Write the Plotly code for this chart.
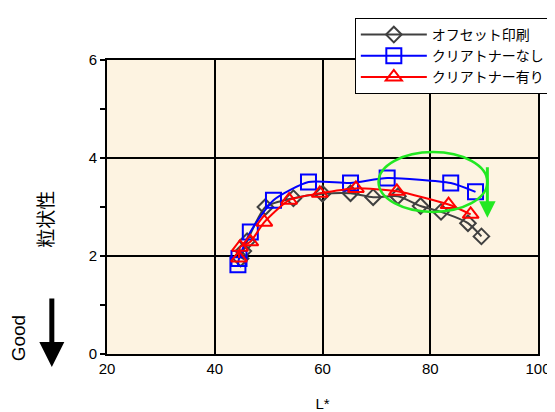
import plotly.graph_objects as go

# Data
x_off = [44.8, 45.3, 46.0, 49.4, 54.6, 60.0, 65.2, 69.4, 74.0, 78.2, 82.0, 87.0, 89.5]
y_off = [1.95, 2.1, 2.3, 3.0, 3.18, 3.27, 3.28, 3.2, 3.22, 3.02, 2.9, 2.67, 2.4]

x_none = [44.3, 44.5, 46.6, 50.9, 57.4, 65.2, 72.0, 83.8, 88.4]
y_none = [1.82, 1.95, 2.49, 3.14, 3.51, 3.49, 3.59, 3.49, 3.31]

x_with = [44.5, 44.7, 46.6, 49.2, 53.8, 59.5, 66.2, 73.8, 83.4, 87.5]
y_with = [1.96, 2.18, 2.29, 2.69, 3.14, 3.28, 3.38, 3.32, 3.05, 2.85]

names = ["オフセット印刷", "クリアトナーなし", "クリアトナー有り"]
x_ticks = [20, 40, 60, 80, 100]
y_ticks = [0, 2, 4, 6]

JP = "Noto Sans CJK JP, sans-serif"
AR = "Arial, Liberation Sans, sans-serif"

fig = go.Figure()
fig.add_trace(go.Scatter(x=x_off, y=y_off, name=names[0], mode="lines+markers",
                         line=dict(color="#404040", width=2, shape="spline", smoothing=0.6),
                         marker=dict(symbol="diamond-open", size=12, color="#404040", line=dict(width=2))))
fig.add_trace(go.Scatter(x=x_none, y=y_none, name=names[1], mode="lines+markers",
                         line=dict(color="#0000FF", width=2, shape="spline", smoothing=0.6),
                         marker=dict(symbol="square-open", size=15, color="#0000FF", line=dict(width=2))))
fig.add_trace(go.Scatter(x=x_with, y=y_with, name=names[2], mode="lines+markers",
                         line=dict(color="#FF0000", width=2, shape="spline", smoothing=0.6),
                         marker=dict(symbol="triangle-up-open", size=14, color="#FF0000", line=dict(width=2))))

# green ellipse + arrow annotation
fig.add_shape(type="circle", xref="x", yref="y", x0=70.4, x1=90.6, y0=2.9, y1=4.12,
              line=dict(color="#22E822", width=2.5))
fig.add_annotation(x=90.6, y=2.78, ax=0, ay=-52, xref="x", yref="y", text="",
                   showarrow=True, arrowhead=2, arrowsize=1.1, arrowwidth=3, arrowcolor="#22E822")

# "Good" arrow
fig.add_annotation(x=-0.128, y=-0.044, ax=0, ay=-70, xref="paper", yref="paper", text="",
                   showarrow=True, arrowhead=2, arrowsize=1.0, arrowwidth=5, arrowcolor="black")
fig.add_annotation(x=-0.206, y=0.054, xref="paper", yref="paper", text="Good", showarrow=False,
                   xanchor="center", yanchor="middle",
                   textangle=-90, font=dict(family=AR, size=19, color="black"))
# y-axis title
fig.add_annotation(x=-0.144, y=0.46, xref="paper", yref="paper", text="粒状性", showarrow=False,
                   xanchor="center", yanchor="middle",
                   textangle=-90, font=dict(family=JP, size=19, color="black"))

fig.update_layout(
    width=547, height=404,
    margin=dict(l=99, r=17, t=52, b=58, autoexpand=False),
    paper_bgcolor="white",
    plot_bgcolor="#FDF3E1",
    showlegend=True,
    legend=dict(x=0.575, y=1.143, xanchor="left", yanchor="top",
                bgcolor="white", bordercolor="black", borderwidth=1,
                font=dict(family=JP, size=14, color="black"),
                itemwidth=66, tracegroupgap=0),
    font=dict(family=AR, size=15, color="black"),
)
fig.update_xaxes(range=[20, 100], tickvals=x_ticks, ticks="", showgrid=True,
                 gridcolor="black", gridwidth=2, zeroline=False, automargin=False,
                 showline=True, linecolor="black", linewidth=2, mirror=True,
                 tickfont=dict(family=AR, size=15),
                 title=dict(text="L*", font=dict(family=AR, size=15), standoff=26))
fig.update_yaxes(range=[0, 6], tickvals=y_ticks, ticks="outside", ticklen=5, tickwidth=1.5,
                 tickcolor="black", showgrid=True, gridcolor="black", gridwidth=2, zeroline=False,
                 automargin=False,
                 showline=True, linecolor="black", linewidth=2, mirror=True,
                 minor=dict(dtick=1, ticks="outside", ticklen=5, tickcolor="black", showgrid=False),
                 tickfont=dict(family=AR, size=15))

fig.write_html("out.html")
